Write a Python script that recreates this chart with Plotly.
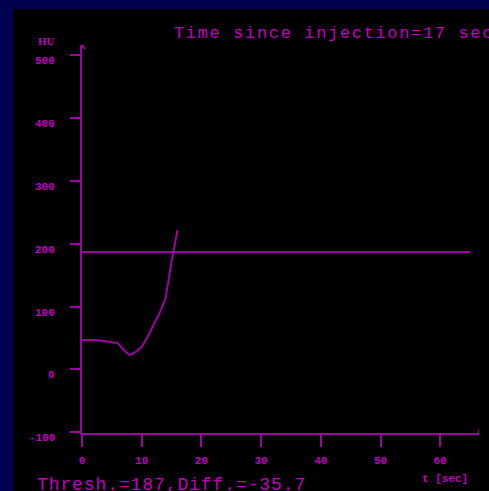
import plotly.graph_objects as go

# ---- data ----
time_s = [0, 2, 4, 6, 7, 8, 9, 10, 11, 12, 13, 14, 15, 16]
hu_values = [47, 47, 45, 42, 31, 23, 28, 36, 52, 71, 90, 113, 172, 222]
threshold_hu = 187
threshold_t = [0, 65]
y_tick_vals = [-100, 0, 100, 200, 300, 400, 500]
y_tick_text = ["-100", "0", "100", "200", "300", "400", "500"]
x_tick_vals = [0, 10, 20, 30, 40, 50, 60]
x_tick_text = ["0", "10", "20", "30", "40", "50", "60"]
title_text = "Time since injection=17 sec"
footer_text = "Thresh.=187,Diff.=-35.7"
x_label = "t [sec]"
y_label = "HU"

LINE = "#a000a8"
TEXT = "#c000c0"
NAVY = "#000050"
MONO = "Liberation Mono, DejaVu Sans Mono, monospace"

fig = go.Figure()
fig.add_trace(go.Scatter(x=threshold_t, y=[threshold_hu] * len(threshold_t), mode="lines",
                         line=dict(color=LINE, width=2), hoverinfo="skip"))
fig.add_trace(go.Scatter(x=time_s, y=hu_values, mode="lines",
                         line=dict(color=LINE, width=2), hoverinfo="skip"))

annotations = []
for v, t in zip(y_tick_vals, y_tick_text):
    annotations.append(dict(x=0, y=v, xref="x", yref="y", text=t, showarrow=False,
                            xanchor="right", yanchor="middle", xshift=-25, yshift=-6,
                            font=dict(family=MONO, size=11, color=TEXT, weight="bold")))
annotations += [
    dict(x=-0.0894, y=1.0103, xref="paper", yref="paper", text=y_label, showarrow=False,
         xanchor="center", yanchor="middle",
         font=dict(family="Liberation Serif, serif", size=11, color=TEXT, weight="bold")),
    dict(x=0.2268, y=1.0309, xref="paper", yref="paper",
         text='<span style="letter-spacing:1.65px">' + title_text + "</span>", showarrow=False,
         xanchor="left", yanchor="middle",
         font=dict(family=MONO, size=17, color=TEXT)),
    dict(x=-0.1184, y=-0.134, xref="paper", yref="paper",
         text='<span style="letter-spacing:0.9px">' + footer_text + "</span>", showarrow=False,
         xanchor="left", yanchor="middle",
         font=dict(family=MONO, size=18, color=TEXT)),
    dict(x=0.851, y=-0.1186, xref="paper", yref="paper", text=x_label, showarrow=False,
         xanchor="left", yanchor="middle",
         font=dict(family=MONO, size=11, color=TEXT, weight="bold")),
]

shapes = [
    dict(type="rect", xref="paper", yref="paper", x0=-0.1738, x1=1.2, y0=-0.3, y1=1.0928,
         fillcolor="black", line=dict(width=0), layer="below"),
    dict(type="path", xref="x", yref="y", xsizemode="pixel", ysizemode="pixel",
         xanchor=0, yanchor=516, path="M -3,-4 L 0,0 L 3,-4",
         line=dict(color=LINE, width=2)),
    dict(type="path", xref="x", yref="y", xsizemode="pixel", ysizemode="pixel",
         xanchor=66.5, yanchor=-101, path="M -1,0 L 3,0 M -1,3 L 3,0 L -1,-3",
         line=dict(color=LINE, width=2)),
]

fig.update_layout(
    width=489, height=491,
    margin=dict(l=82, r=10, t=45, b=58, pad=0),
    paper_bgcolor=NAVY, plot_bgcolor="rgba(0,0,0,0)",
    showlegend=False,
    annotations=annotations, shapes=shapes,
    xaxis=dict(range=[0, 66.5], showgrid=False, zeroline=False, showline=True,
               linecolor=LINE, linewidth=2, ticks="outside", ticklen=12, tickwidth=2,
               tickcolor=LINE, tickvals=x_tick_vals, ticktext=x_tick_text,
               ticklabelstandoff=4,
               tickfont=dict(family=MONO, size=11, color=TEXT, weight="bold")),
    yaxis=dict(range=[-101, 516], showgrid=False, zeroline=False, showline=True,
               linecolor=LINE, linewidth=2, ticks="outside", ticklen=10, tickwidth=2,
               tickcolor=LINE, tickvals=y_tick_vals, showticklabels=False),
)

fig.write_html(
    "out.html",
    config={"displayModeBar": False},
    post_script="document.body.style.margin='0';document.body.style.overflow='hidden';"
                "document.body.style.background='" + NAVY + "';",
)
